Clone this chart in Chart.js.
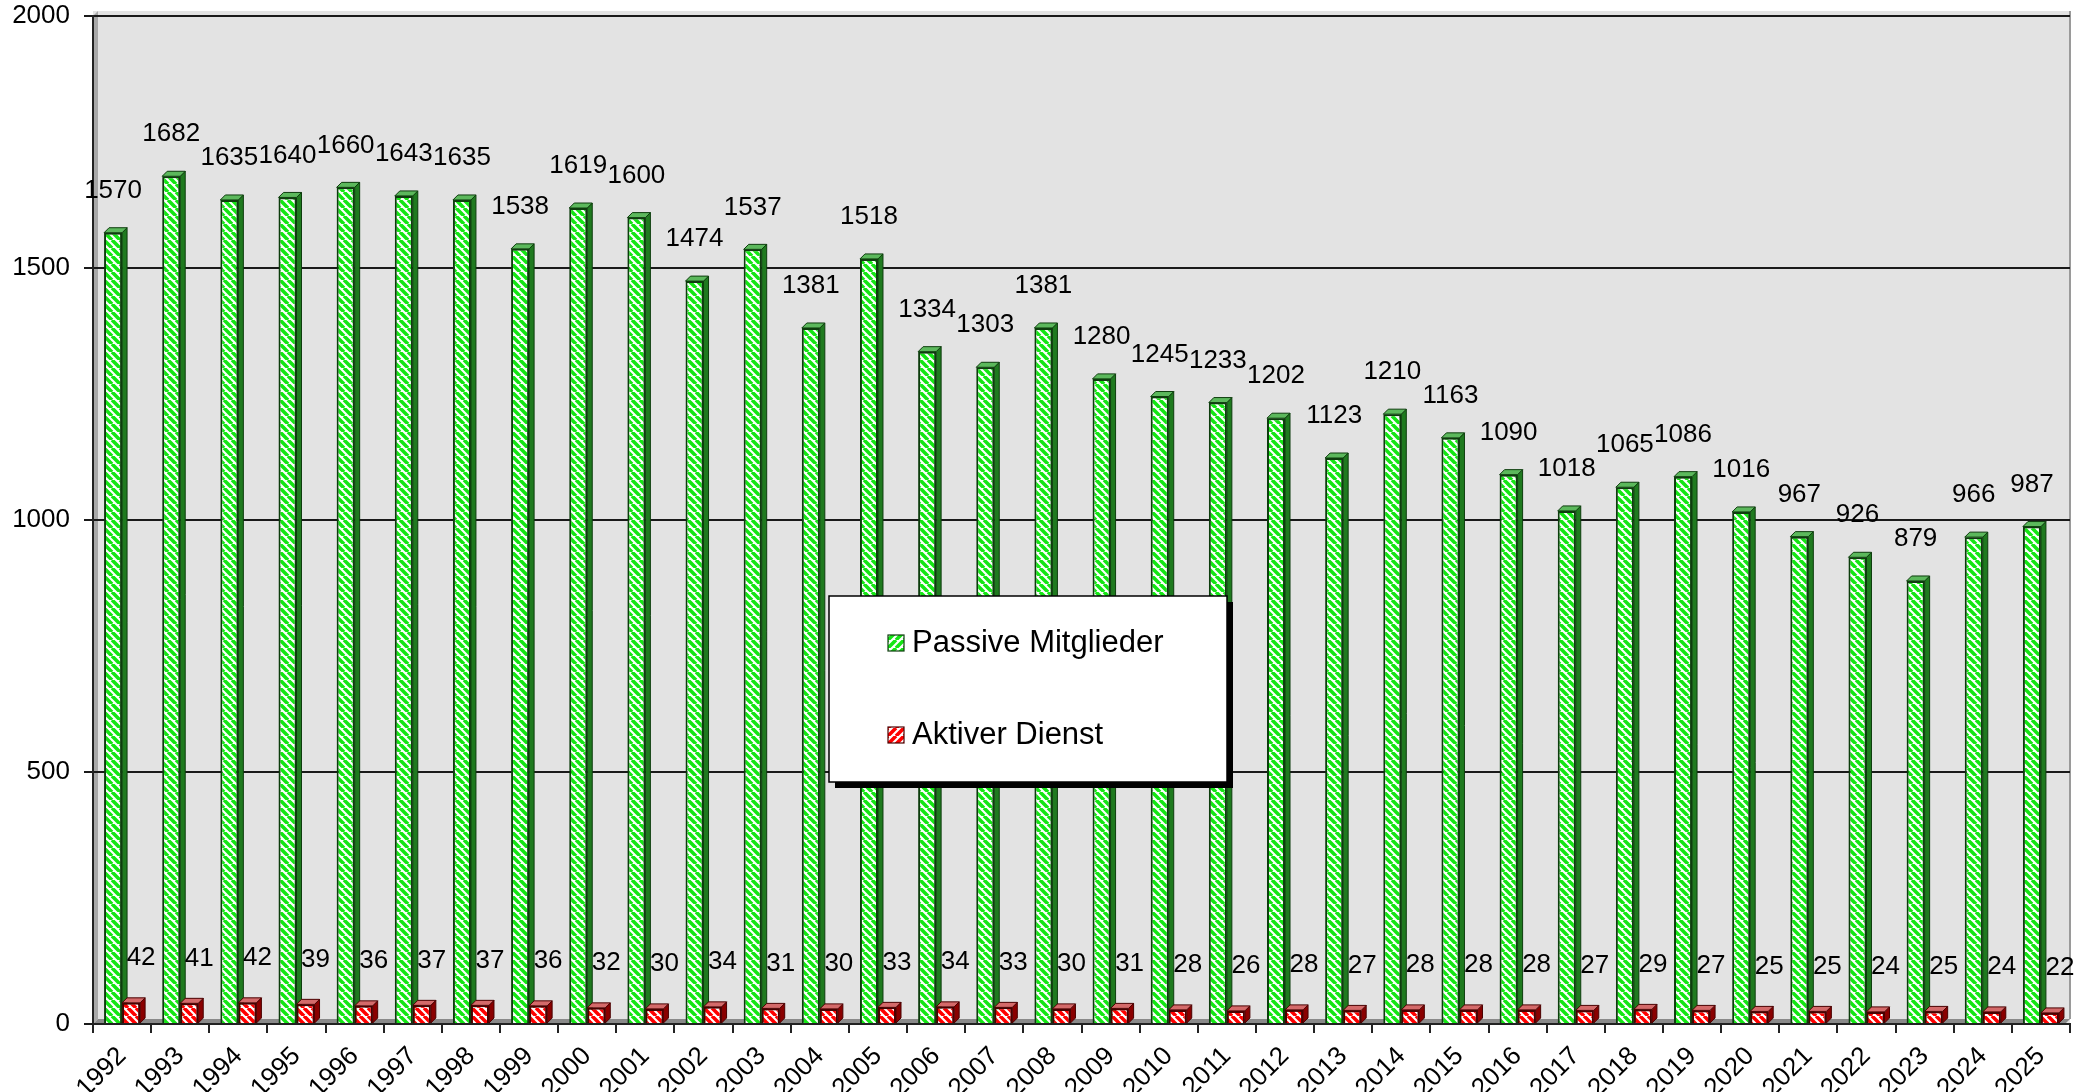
<!DOCTYPE html>
<html lang="de">
<head>
<meta charset="UTF-8">
<title>Mitglieder 1992 - 2025</title>
<script src="https://cdn.jsdelivr.net/npm/chart.js"></script>
<style>
    body { margin: 0; padding: 0; background: #fff; }
    #wrap { width: 2082px; height: 1092px; }
</style>
</head>
<body>
<div id="wrap"><canvas id="chart" width="2082" height="1092"></canvas></div>
<script>
// data
const years = ['1992','1993','1994','1995','1996','1997','1998','1999','2000','2001','2002','2003','2004','2005','2006','2007','2008',
               '2009','2010','2011','2012','2013','2014','2015','2016','2017','2018','2019','2020','2021','2022','2023','2024','2025'];
const passive = [1570,1682,1635,1640,1660,1643,1635,1538,1619,1600,1474,1537,1381,1518,1334,1303,1381,
                 1280,1245,1233,1202,1123,1210,1163,1090,1018,1065,1086,1016,967,926,879,966,987];
const aktiv = [42,41,42,39,36,37,37,36,32,30,34,31,30,33,34,33,30,
               31,28,26,28,27,28,28,28,27,29,27,25,25,24,25,24,22];
const yTicks = [0, 500, 1000, 1500, 2000];
const seriesNames = ['Passive Mitglieder', 'Aktiver Dienst'];

const FONT = "'Liberation Sans', Arial, sans-serif";
const canvas = document.getElementById('chart');
const ctx = canvas.getContext('2d');

// diagonal stripe fill like the old excel pattern
function stripes(color, dir) {
    const c = document.createElement('canvas');
    c.width = c.height = 8;
    const g = c.getContext('2d');
    g.fillStyle = '#fff';
    g.fillRect(0, 0, 8, 8);
    g.strokeStyle = color;
    g.lineWidth = 3.6;
    g.beginPath();
    for (let k = -8; k <= 8; k += 8) {
        if (dir > 0) { g.moveTo(k, 0); g.lineTo(k + 8, 8); }
        else { g.moveTo(k, 8); g.lineTo(k + 8, 0); }
    }
    g.stroke();
    return ctx.createPattern(c, 'repeat');
}

const DEPTH = 5;

// grey wall + floor behind the bars
const backdrop = {
    id: 'backdrop',
    beforeDraw(chart) {
        const a = chart.chartArea, g = chart.ctx;
        g.save();
        g.fillStyle = '#e3e3e3';
        g.fillRect(a.left, a.top - DEPTH, a.right - a.left, a.bottom - a.top + DEPTH);
        // left side wall
        g.fillStyle = '#a8a8a8';
        g.beginPath();
        g.moveTo(a.left, a.top);
        g.lineTo(a.left + DEPTH, a.top - DEPTH);
        g.lineTo(a.left + DEPTH, a.bottom - DEPTH);
        g.lineTo(a.left, a.bottom);
        g.closePath();
        g.fill();
        // floor
        g.fillStyle = '#8a8a8a';
        g.beginPath();
        g.moveTo(a.left, a.bottom);
        g.lineTo(a.left + DEPTH, a.bottom - DEPTH);
        g.lineTo(a.right, a.bottom - DEPTH);
        g.lineTo(a.right - DEPTH, a.bottom);
        g.closePath();
        g.fill();
        // right edge of the wall
        g.strokeStyle = '#9a9a9a';
        g.lineWidth = 2;
        g.beginPath();
        g.moveTo(a.right, a.top - DEPTH);
        g.lineTo(a.right, a.bottom - DEPTH);
        g.stroke();
        g.restore();
    }
};

// top and side faces of the bars (fronts are drawn afterwards by chart.js)
const faces = {
    id: 'faces',
    beforeDatasetsDraw(chart) {
        const g = chart.ctx;
        g.save();
        g.lineWidth = 1;
        chart.data.datasets.forEach((ds, i) => {
            chart.getDatasetMeta(i).data.forEach(bar => {
                const l = bar.x - bar.width / 2, r = bar.x + bar.width / 2;
                const t = bar.y, b = bar.base;
                g.strokeStyle = ds.borderColor;
                g.fillStyle = ds.sideColor;
                g.beginPath();
                g.moveTo(r, t); g.lineTo(r + DEPTH, t - DEPTH);
                g.lineTo(r + DEPTH, b - DEPTH); g.lineTo(r, b);
                g.closePath(); g.fill(); g.stroke();
                g.fillStyle = ds.topColor;
                g.beginPath();
                g.moveTo(l, t); g.lineTo(l + DEPTH, t - DEPTH);
                g.lineTo(r + DEPTH, t - DEPTH); g.lineTo(r, t);
                g.closePath(); g.fill(); g.stroke();
            });
        });
        g.restore();
    }
};

// value labels above the bars
const valueLabels = {
    id: 'valueLabels',
    afterDatasetsDraw(chart) {
        const g = chart.ctx;
        g.save();
        g.font = '26px ' + FONT;
        g.fillStyle = '#000';
        g.textAlign = 'center';
        g.textBaseline = 'middle';
        chart.data.datasets.forEach((ds, i) => {
            chart.getDatasetMeta(i).data.forEach((bar, j) => {
                const dx = i === 0 ? 0 : 10;
                const dy = i === 0 ? 42 : 45;
                g.fillText(String(ds.data[j]), bar.x + dx, bar.y - dy);
            });
        });
        g.restore();
    }
};

// boxed legend with drop shadow in the middle of the plot
const boxLegend = {
    id: 'boxLegend',
    afterDraw(chart) {
        const g = chart.ctx;
        const x = 829, y = 596, w = 398, h = 186;
        g.save();
        g.fillStyle = '#000';
        g.fillRect(x + 6, y + 6, w, h);
        g.fillStyle = '#fff';
        g.fillRect(x, y, w, h);
        g.strokeStyle = '#000';
        g.lineWidth = 1.5;
        g.strokeRect(x, y, w, h);
        g.font = '31px ' + FONT;
        g.textBaseline = 'middle';
        chart.data.datasets.forEach((ds, i) => {
            const cy = y + 47 + i * 92;
            g.fillStyle = ds.legendFill;
            g.fillRect(x + 59, cy - 8, 16, 16);
            g.strokeStyle = ds.borderColor;
            g.lineWidth = 1.2;
            g.strokeRect(x + 59, cy - 8, 16, 16);
            g.fillStyle = '#000';
            g.fillText(ds.label, x + 83, cy);
        });
        g.restore();
    }
};

new Chart(ctx, {
    type: 'bar',
    data: {
        labels: years,
        datasets: [{
            label: seriesNames[0],
            data: passive,
            backgroundColor: stripes('#14e614', 1),
            legendFill: stripes('#14e614', -1),
            borderColor: '#0d3d0d',
            borderWidth: 2,
            sideColor: '#1f7a1f',
            topColor: '#5cb85c'
        }, {
            label: seriesNames[1],
            data: aktiv,
            backgroundColor: stripes('#ff0000', 1),
            legendFill: stripes('#ff0000', -1),
            borderColor: '#4a0000',
            borderWidth: 2,
            sideColor: '#8a0000',
            topColor: '#d46a6a'
        }]
    },
    options: {
        responsive: false,
        animation: false,
        devicePixelRatio: 1,
        layout: { padding: { top: 16, right: 12, left: 0, bottom: 0 } },
        datasets: { bar: { categoryPercentage: 0.62, barPercentage: 1.0 } },
        plugins: {
            legend: { display: false },
            tooltip: { enabled: false }
        },
        scales: {
            x: {
                offset: true,
                grid: { display: true, drawOnChartArea: false, drawTicks: true, tickLength: 9, color: '#222', lineWidth: 2, offset: true },
                border: { display: true, color: '#222', width: 2 },
                ticks: {
                    color: '#000',
                    font: { family: FONT, size: 26 },
                    minRotation: 45,
                    maxRotation: 45,
                    autoSkip: false,
                    padding: 8
                },
                afterFit(scale) { scale.height = 68; scale.paddingLeft = 0; scale.paddingRight = 0; }
            },
            y: {
                min: 0,
                max: 2000,
                afterBuildTicks(scale) { scale.ticks = yTicks.map(v => ({ value: v })); },
                grid: { color: '#1a1a1a', lineWidth: 2, drawTicks: true, tickLength: 9 },
                border: { display: true, color: '#222', width: 2 },
                ticks: {
                    color: '#000',
                    font: { family: FONT, size: 26 },
                    padding: 14,
                    callback: v => String(v)
                },
                afterFit(scale) { scale.width = 93; scale.paddingTop = 0; scale.paddingBottom = 0; }
            }
        }
    },
    plugins: [backdrop, faces, valueLabels, boxLegend]
});
</script>
</body>
</html>
